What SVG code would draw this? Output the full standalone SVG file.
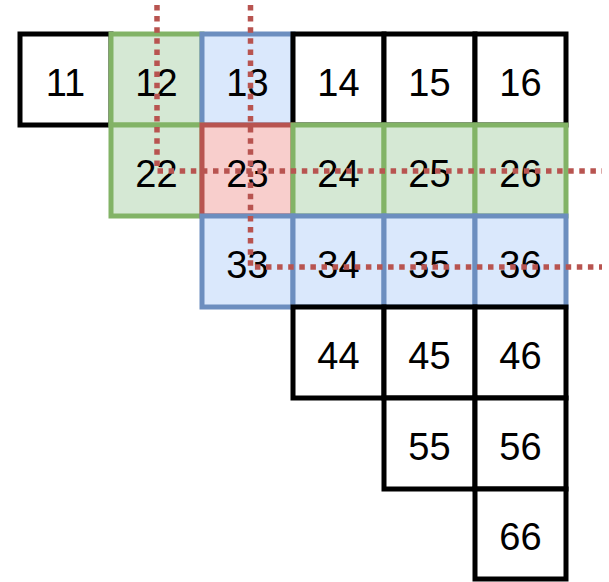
<svg xmlns="http://www.w3.org/2000/svg" width="609" height="582" viewBox="0 0 609 582">
<style>
rect{stroke-width:5}
.w{fill:#ffffff;stroke:#000000}
.g{fill:#d5e8d4;stroke:#82b366}
.b{fill:#dae8fc;stroke:#6c8ebf}
.r{fill:#f8cecc;stroke:#b85450}
text{font-family:"Liberation Sans",Arial,Helvetica,sans-serif;font-size:38px;fill:#000;text-anchor:middle}
.dot{fill:none;stroke:#b85450;stroke-width:5.5;stroke-dasharray:5.5 5.6}
</style>
<rect width="609" height="582" fill="#ffffff" stroke="none"/>
<g id="c11"><rect class="w" x="20" y="34" width="91" height="91"/><text x="65.5" y="95.5">11</text></g>
<g id="c12"><rect class="g" x="111" y="34" width="91" height="91"/><text x="156.5" y="95.5">12</text></g>
<g id="c13"><rect class="b" x="202" y="34" width="91" height="91"/><text x="247.5" y="95.5">13</text></g>
<g id="c14"><rect class="w" x="293" y="34" width="91" height="91"/><text x="338.5" y="95.5">14</text></g>
<g id="c15"><rect class="w" x="384" y="34" width="91" height="91"/><text x="429.5" y="95.5">15</text></g>
<g id="c16"><rect class="w" x="475" y="34" width="91" height="91"/><text x="520.5" y="95.5">16</text></g>
<g id="c22"><rect class="g" x="111" y="125" width="91" height="91"/><text x="156.5" y="186.5">22</text></g>
<g id="c23"><rect class="r" x="202" y="125" width="91" height="91"/><text x="247.5" y="186.5">23</text></g>
<g id="c24"><rect class="g" x="293" y="125" width="91" height="91"/><text x="338.5" y="186.5">24</text></g>
<g id="c25"><rect class="g" x="384" y="125" width="91" height="91"/><text x="429.5" y="186.5">25</text></g>
<g id="c26"><rect class="g" x="475" y="125" width="91" height="91"/><text x="520.5" y="186.5">26</text></g>
<g id="c33"><rect class="b" x="202" y="216" width="91" height="91"/><text x="247.5" y="277.5">33</text></g>
<g id="c34"><rect class="b" x="293" y="216" width="91" height="91"/><text x="338.5" y="277.5">34</text></g>
<g id="c35"><rect class="b" x="384" y="216" width="91" height="91"/><text x="429.5" y="277.5">35</text></g>
<g id="c36"><rect class="b" x="475" y="216" width="91" height="91"/><text x="520.5" y="277.5">36</text></g>
<g id="c44"><rect class="w" x="293" y="307" width="91" height="91"/><text x="338.5" y="368.5">44</text></g>
<g id="c45"><rect class="w" x="384" y="307" width="91" height="91"/><text x="429.5" y="368.5">45</text></g>
<g id="c46"><rect class="w" x="475" y="307" width="91" height="91"/><text x="520.5" y="368.5">46</text></g>
<g id="c55"><rect class="w" x="384" y="398" width="91" height="91"/><text x="429.5" y="459.5">55</text></g>
<g id="c56"><rect class="w" x="475" y="398" width="91" height="91"/><text x="520.5" y="459.5">56</text></g>
<g id="c66"><rect class="w" x="475" y="489" width="91" height="90"/><text x="520.5" y="550">66</text></g>
<g id="connectors">
<path class="dot" d="M157 5 V171 H602"/>
<path class="dot" d="M250.5 5 V267 H602"/>
</g>
</svg>
